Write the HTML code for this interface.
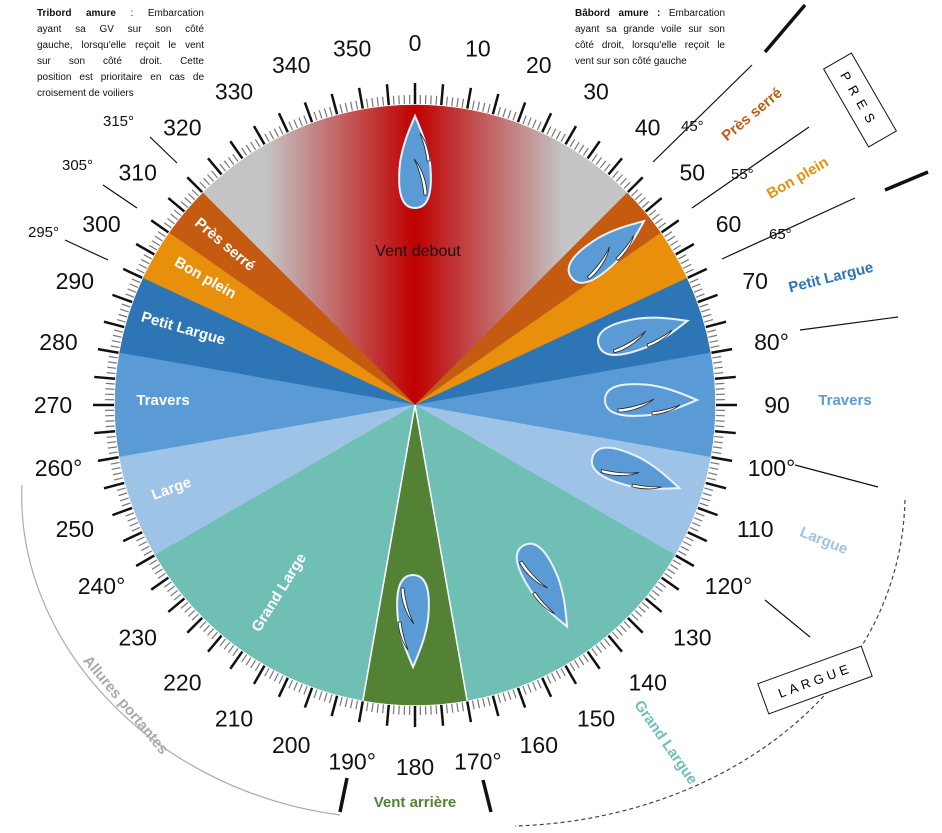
<!DOCTYPE html>
<html><head><meta charset="utf-8"><style>
body{margin:0;background:#fff;width:942px;height:833px;overflow:hidden;font-family:"Liberation Sans",sans-serif}
.note{position:absolute;font-size:10px;line-height:16px;color:#111}
.note span{display:block;text-align:justify;text-align-last:justify;white-space:nowrap}
.note span.l{text-align-last:left}
</style></head><body>
<div class="note" style="left:37px;top:6px;width:167px"><span><b>Tribord amure</b> : Embarcation</span><span>ayant sa GV sur son côté</span><span>gauche, lorsqu'elle reçoit le vent</span><span>sur son côté droit. Cette</span><span>position est prioritaire en cas de</span><span class="l">croisement de voiliers</span></div>
<div class="note" style="left:575px;top:6px;width:150px"><span><b>Bâbord amure :</b> Embarcation</span><span>ayant sa grande voile sur son</span><span>côté droit, lorsqu'elle reçoit le</span><span class="l">vent sur son côté gauche</span></div>
<svg id="s" width="942" height="833" style="position:absolute;left:0;top:0" xmlns="http://www.w3.org/2000/svg">
<defs><linearGradient id="g" gradientUnits="userSpaceOnUse" x1="203" y1="0" x2="627" y2="0">
<stop offset="0" stop-color="#c4c4c4"/><stop offset="0.15" stop-color="#c4c4c4"/><stop offset="0.5" stop-color="#c00000"/><stop offset="0.85" stop-color="#c4c4c4"/><stop offset="1" stop-color="#c4c4c4"/></linearGradient></defs>
<g id="sec"></g><g id="tk"></g><g id="bt"></g><g id="lb"></g>
<g stroke="#111" stroke-width="1.2">
<line x1="653" y1="162" x2="752" y2="65"/><line x1="692" y1="208" x2="809" y2="127"/><line x1="722" y1="259" x2="855" y2="198"/>
<line x1="800" y1="330" x2="898" y2="317"/><line x1="795" y1="465" x2="878" y2="487"/><line x1="765" y1="600" x2="810" y2="637"/>
<line x1="150" y1="137" x2="177" y2="163"/><line x1="103" y1="185" x2="137" y2="208"/><line x1="65" y1="240" x2="108" y2="260"/>
</g>
<g stroke="#111" stroke-width="3.5"><line x1="765" y1="52" x2="805" y2="5"/><line x1="885" y1="190" x2="928" y2="172"/><line x1="347" y1="778" x2="340" y2="812"/><line x1="483" y1="780" x2="491" y2="812"/></g>
<path d="M22,485 C15,640 150,790 340,815" fill="none" stroke="#aaa" stroke-width="1.2"/>
<path d="M905,500 C900,690 720,820 515,826" fill="none" stroke="#444" stroke-width="1.2" stroke-dasharray="4,3"/>
<g font-size="15" fill="#111">
<text x="681" y="131">45°</text><text x="731" y="179">55°</text><text x="769" y="239">65°</text>
<text x="103" y="126">315°</text><text x="62" y="170">305°</text><text x="28" y="237">295°</text></g>
<g font-weight="bold" font-size="15">
<text transform="translate(755,118) rotate(-40)" text-anchor="middle" fill="#c55a11">Près serré</text>
<text transform="translate(800,182) rotate(-30)" text-anchor="middle" fill="#e8900c">Bon plein</text>
<text transform="translate(832,282) rotate(-14)" text-anchor="middle" fill="#2e75b6">Petit Largue</text>
<text x="845" y="405" text-anchor="middle" fill="#5b9bd5">Travers</text>
<text transform="translate(822,545) rotate(22)" text-anchor="middle" fill="#9dc3e6">Largue</text>
<text transform="translate(662,745) rotate(55)" text-anchor="middle" fill="#70bfb5">Grand Largue</text>
<text x="415" y="807" text-anchor="middle" fill="#548235">Vent arrière</text>
<text transform="translate(122,708) rotate(50)" text-anchor="middle" fill="#aaa">Allures portantes</text>
</g>
<g transform="translate(860,100) rotate(60)"><rect x="-45" y="-16" width="90" height="32" fill="#fff" stroke="#111"/><text x="0" y="5" text-anchor="middle" font-size="13" letter-spacing="7">PRES</text></g>
<g transform="translate(815,680) rotate(-20)"><rect x="-55" y="-16" width="110" height="32" fill="#fff" stroke="#111"/><text x="0" y="5" text-anchor="middle" font-size="13" letter-spacing="4">LARGUE</text></g>
</svg>
<script>
const cx=415,cy=405,R=300,NS="http://www.w3.org/2000/svg";
function P(a,r){a=a*Math.PI/180;return[cx+r*Math.sin(a),cy-r*Math.cos(a)];}
function el(p,t,at,txt){const e=document.createElementNS(NS,t);for(const k in at)e.setAttribute(k,at[k]);if(txt)e.textContent=txt;document.getElementById(p).appendChild(e);return e;}
function wedge(a1,a2,f){const p1=P(a1,R),p2=P(a2,R);const large=((a2-a1+360)%360)>180?1:0;
el("sec","path",{d:`M${cx},${cy}L${p1}A${R},${R} 0 ${large} 1 ${p2}Z`,fill:f,stroke:f,"stroke-width":0.5});}
wedge(315,45,"url(#g)");
[[45,55,"#c55a11"],[305,315,"#c55a11"],[55,65,"#e8900c"],[295,305,"#e8900c"],[65,80,"#2e75b6"],[280,295,"#2e75b6"],[80,100,"#5b9bd5"],[260,280,"#5b9bd5"],[100,120,"#9dc3e6"],[240,260,"#9dc3e6"],[120,170,"#70bfb5"],[190,240,"#70bfb5"],[170,190,"#548235"]].forEach(w=>wedge(w[0],w[1],w[2]));
el("sec","line",{x1:P(170,R)[0],y1:P(170,R)[1],x2:cx,y2:cy,stroke:"#fff","stroke-width":1.5});
el("sec","line",{x1:P(190,R)[0],y1:P(190,R)[1],x2:cx,y2:cy,stroke:"#fff","stroke-width":1.5});
for(let a=0;a<360;a++){let maj=a%5==0;let[a1,b1]=P(a,R+1),[a2,b2]=P(a,maj?R+22:R+10);
el("tk","line",{x1:a1,y1:b1,x2:a2,y2:b2,stroke:maj?"#111":"#777","stroke-width":maj?2.5:1.2});}
const deg=[80,100,120,170,190,240,260];
for(let a=0;a<360;a+=10){let[x,y]=P(a,362);el("lb","text",{x:x,y:y+8,"text-anchor":"middle","font-size":23,fill:"#111"},a+(deg.includes(a)?"°":""));}
function boat(x,y,r,s){const g=el("bt","g",{transform:`translate(${x},${y}) rotate(${r}) scale(${s})`});
const h=document.createElementNS(NS,"path");h.setAttribute("d","M-45,0 C-45,-17 -20,-17 0,-15 C20,-12 35,-5 47,0 C35,5 20,12 0,15 C-20,17 -45,17 -45,0Z");h.setAttribute("fill","#5b9bd5");h.setAttribute("stroke","#e8f2fb");h.setAttribute("stroke-width","2");g.appendChild(h);
["M-32,9 C-20,8 -5,4 4,-1 C-5,7 -20,12 -32,12Z","M2,12 C12,11 22,8 30,5 C22,11 12,14 2,15Z"].forEach(d=>{const p=document.createElementNS(NS,"path");p.setAttribute("d",d);p.setAttribute("fill","#fff");p.setAttribute("stroke","#222");p.setAttribute("stroke-width","0.8");g.appendChild(p);});}
boat(415,163,-90,1);boat(607,250,-38,1);boat(642,333,-15,1);boat(650,400,0,1);boat(635,472,20,1);boat(545,585,62,1);boat(413,620,90,1);
function lab(x,y,r,t,c,fs){el("lb","text",{transform:`translate(${x},${y}) rotate(${r})`,"text-anchor":"middle","font-size":fs||15,"font-weight":"bold",fill:c||"#fff"},t);}
lab(222,248,40,"Près serré");lab(203,282,30,"Bon plein");lab(182,333,16,"Petit Largue");lab(163,405,0,"Travers");lab(173,493,-20,"Large");lab(283,595,-58,"Grand Large");
el("lb","text",{x:418,y:256,"text-anchor":"middle","font-size":16,fill:"#111"},"Vent debout");
</script>
</body></html>
